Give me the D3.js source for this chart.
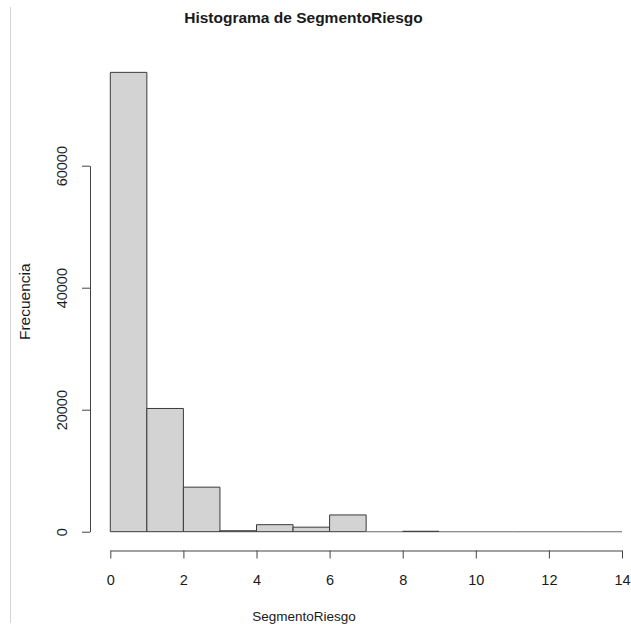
<!DOCTYPE html>
<html>
<head>
<meta charset="utf-8">
<script src="https://cdn.jsdelivr.net/npm/d3@7"></script>
<style>
  html, body { margin: 0; padding: 0; background: #fff; }
  svg { display: block; }
  text { font-family: "Liberation Sans", Arial, Helvetica, sans-serif; fill: #1a1a1a; }
</style>
</head>
<body>
<svg id="chart" width="631" height="632"></svg>
<script>
// Histogram bins of SegmentoRiesgo (unit width) and their counts
const binStarts = [0, 1, 2, 3, 4, 5, 6, 7, 8, 9, 10, 11, 12, 13];
const counts    = [75300, 20200, 7300, 160, 1150, 740, 2750, 0, 70, 0, 0, 0, 0, 0];
const xTicks = [0, 2, 4, 6, 8, 10, 12, 14];
const yTicks = [0, 20000, 40000, 60000];

const title = "Histograma de SegmentoRiesgo";
const xLabel = "SegmentoRiesgo";
const yLabel = "Frecuencia";

const svg = d3.select("#chart");

const x = d3.scaleLinear().domain([0, 14]).range([110.3, 622]);
const y = d3.scaleLinear().domain([0, 60000]).range([531.7, 165.7]);

// thin frame line on the left edge
svg.append("line")
  .attr("x1", 10.5).attr("x2", 10.5)
  .attr("y1", 7).attr("y2", 623)
  .attr("stroke", "#d4d4d4").attr("stroke-width", 1);

// bars as closed paths so that empty bins still show their outline
const bins = binStarts.map((s, i) => ({ x0: s, x1: s + 1, n: counts[i] }));
svg.append("g")
  .selectAll("path")
  .data(bins)
  .join("path")
  .attr("d", d => {
    const p = d3.path();
    p.moveTo(x(d.x0), y(0));
    p.lineTo(x(d.x0), y(d.n));
    p.lineTo(x(d.x1), y(d.n));
    p.lineTo(x(d.x1), y(0));
    p.closePath();
    return p.toString();
  })
  .attr("fill", "#d3d3d3")
  .attr("stroke", d => d.n > 0 ? "#3a3a3a" : "#8a8a8a")
  .attr("stroke-width", 1);

// x axis
const xAxis = svg.append("g")
  .attr("transform", "translate(0,550.5)")
  .call(d3.axisBottom(x).tickValues(xTicks).tickSize(8).tickSizeOuter(0).tickFormat(d3.format("d")));
xAxis.selectAll("path, line").attr("stroke", "#444");
xAxis.selectAll("text")
  .attr("y", 34.5).attr("dy", 0)
  .style("font-size", "14.5px")
  .attr("fill", "#1a1a1a");

// y axis with rotated labels
const yAxis = svg.append("g")
  .attr("transform", "translate(90,0)")
  .call(d3.axisLeft(y).tickValues(yTicks).tickSize(8).tickSizeOuter(0).tickFormat(d3.format("d")));
yAxis.selectAll("path, line").attr("stroke", "#444");
yAxis.selectAll("text")
  .attr("transform", "rotate(-90)")
  .attr("x", 0).attr("y", -23).attr("dy", 0)
  .attr("text-anchor", "middle")
  .style("font-size", "14.5px")
  .attr("fill", "#1a1a1a");

// titles
svg.append("text")
  .attr("x", 303.5).attr("y", 22.7)
  .attr("text-anchor", "middle")
  .style("font-size", "15.5px").style("font-weight", "bold")
  .text(title);

svg.append("text")
  .attr("x", 304).attr("y", 621)
  .attr("text-anchor", "middle")
  .style("font-size", "13.5px")
  .text(xLabel);

svg.append("text")
  .attr("transform", "translate(29.5,301.7) rotate(-90)")
  .attr("text-anchor", "middle")
  .style("font-size", "15.5px")
  .text(yLabel);
</script>
</body>
</html>
